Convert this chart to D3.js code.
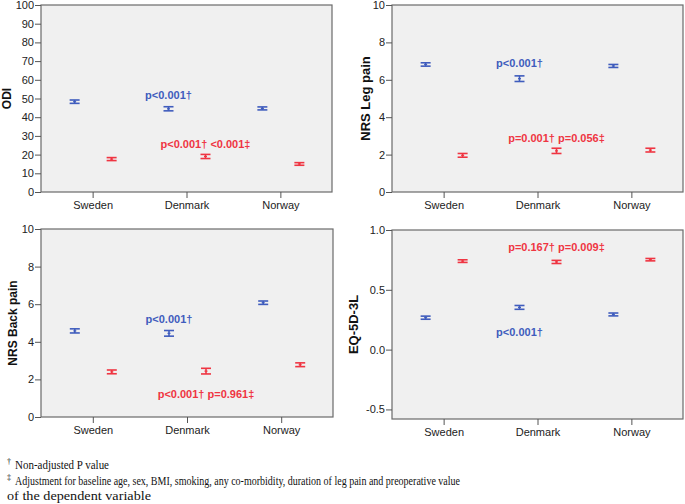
<!DOCTYPE html>
<html>
<head>
<meta charset="utf-8">
<script src="https://cdn.jsdelivr.net/npm/d3@7"></script>
<style>
  body { margin: 0; background: #fff; }
  svg { display: block; }
</style>
</head>
<body>
<div id="app"></div>
<script>
// categories
const countries = ["Sweden", "Denmark", "Norway"];

// means (blue = preoperative, red = follow-up) and 95% CI half widths
const odiPre = [48.3, 44.5, 44.7];
const odiPreCi = [0.9, 1.1, 0.8];
const odiPost = [17.6, 19.0, 15.0];
const odiPostCi = [0.8, 1.1, 0.7];

const legPre = [6.82, 6.06, 6.74];
const legPreCi = [0.09, 0.15, 0.08];
const legPost = [1.96, 2.2, 2.24];
const legPostCi = [0.1, 0.14, 0.1];

const backPre = [4.58, 4.45, 6.08];
const backPreCi = [0.11, 0.15, 0.09];
const backPost = [2.4, 2.44, 2.78];
const backPostCi = [0.1, 0.15, 0.1];

const eqPre = [0.267, 0.353, 0.294];
const eqPreCi = [0.013, 0.016, 0.012];
const eqPost = [0.74, 0.733, 0.752];
const eqPostCi = [0.011, 0.013, 0.01];

// tick labels
const odiTicks = [0, 10, 20, 30, 40, 50, 60, 70, 80, 90, 100];
const nrsTicks = [0, 2, 4, 6, 8, 10];
const eqTicks = [-0.5, 0.0, 0.5, 1.0];

// p value notes: [text, series, value]
const odiNotes = [["p<0.001\u2020", "pre", 52], ["p<0.001\u2020 <0.001\u2021", "post", 25.5]];
const legNotes = [["p<0.001\u2020", "pre", 6.9], ["p=0.001\u2020 p=0.056\u2021", "post", 2.9]];
const backNotes = [["p<0.001\u2020", "pre", 5.2], ["p<0.001\u2020 p=0.961\u2021", "post", 1.2]];
const eqNotes = [["p=0.167\u2020 p=0.009\u2021", "post", 0.855], ["p<0.001\u2020", "pre", 0.15]];

const BLUE = "#3f5cbd", RED = "#ef3542";

const svg = d3.select("#app").append("svg")
  .attr("width", 685).attr("height", 504)
  .style("font-family", "'Liberation Sans', Arial, sans-serif");

function drawPanel(p) {
  const g = svg.append("g").attr("transform", `translate(${p.left},${p.top})`);
  const x = d3.scalePoint().domain(countries).range([0, p.w]).padding(0.55);
  const y = d3.scaleLinear().domain(p.domain).range([p.h, 0]);

  g.append("rect").attr("width", p.w).attr("height", p.h)
    .attr("fill", "#f0f0f0").attr("stroke", "#6a6a6a").attr("stroke-width", 1.2);

  const ya = g.append("g").call(d3.axisLeft(y).tickValues(p.ticks).tickSize(6).tickPadding(1)
    .tickFormat(p.fmt || d3.format("d")));
  const xa = g.append("g").attr("transform", `translate(0,${p.h})`)
    .call(d3.axisBottom(x).tickSize(6).tickPadding(3.5));
  [ya, xa].forEach(a => {
    a.select(".domain").remove();
    a.selectAll("line").attr("stroke", "#555");
    a.selectAll("text").attr("fill", "#222").style("font-size", "11px")
      .style("font-family", "'Liberation Sans', Arial, sans-serif");
  });

  svg.append("text")
    .attr("transform", `translate(${p.titleX},${p.top + p.h / 2}) rotate(-90)`)
    .attr("text-anchor", "middle").attr("dy", "0.35em")
    .style("font-size", p.titleSize + "px").style("font-weight", "bold").attr("fill", "#111")
    .text(p.title);

  const series = [
    {key: "pre", vals: p.pre, ci: p.preCi, color: BLUE, off: -18},
    {key: "post", vals: p.post, ci: p.postCi, color: RED, off: 19}
  ];
  series.forEach(s => {
    const bars = g.selectAll(null).data(countries).enter().append("g")
      .attr("stroke", s.color).attr("stroke-width", 1.6).attr("fill", "none");
    bars.append("line")
      .attr("x1", c => x(c) + s.off).attr("x2", c => x(c) + s.off)
      .attr("y1", (c, i) => y(s.vals[i] - s.ci[i])).attr("y2", (c, i) => y(s.vals[i] + s.ci[i]));
    [-1, 1].forEach(sg => {
      bars.append("line")
        .attr("x1", c => x(c) + s.off - 5).attr("x2", c => x(c) + s.off + 5)
        .attr("y1", (c, i) => y(s.vals[i] + sg * s.ci[i])).attr("y2", (c, i) => y(s.vals[i] + sg * s.ci[i]));
    });
    // mean marker
    bars.append("line").attr("stroke-width", 1.2)
      .attr("x1", c => x(c) + s.off - 1.5).attr("x2", c => x(c) + s.off + 1.5)
      .attr("y1", (c, i) => y(s.vals[i])).attr("y2", (c, i) => y(s.vals[i]));
  });

  g.selectAll(null).data(p.notes).enter().append("text")
    .attr("x", d => x("Denmark") + (d[1] === "pre" ? -18 : 19))
    .attr("y", d => y(d[2])).attr("dy", "0.35em")
    .attr("text-anchor", "middle")
    .attr("fill", d => d[1] === "pre" ? BLUE : RED)
    .style("font-size", "11px").style("font-weight", "bold")
    .text(d => d[0]);
}

const eqFmt = v => d3.format(".1f")(v).replace("\u2212", "-");

drawPanel({left: 41, top: 5, w: 291, h: 187, domain: [0, 100], ticks: odiTicks,
  pre: odiPre, preCi: odiPreCi, post: odiPost, postCi: odiPostCi, notes: odiNotes,
  title: "ODI", titleX: 7, titleSize: 12});
drawPanel({left: 392, top: 5, w: 291, h: 187, domain: [0, 10], ticks: nrsTicks,
  pre: legPre, preCi: legPreCi, post: legPost, postCi: legPostCi, notes: legNotes,
  title: "NRS Leg pain", titleX: 365, titleSize: 13});
drawPanel({left: 41, top: 229, w: 292, h: 188, domain: [0, 10], ticks: nrsTicks,
  pre: backPre, preCi: backPreCi, post: backPost, postCi: backPostCi, notes: backNotes,
  title: "NRS Back pain", titleX: 13, titleSize: 12});
drawPanel({left: 392, top: 230, w: 291, h: 189, domain: [-0.58, 1.0], ticks: eqTicks, fmt: eqFmt,
  pre: eqPre, preCi: eqPreCi, post: eqPost, postCi: eqPostCi, notes: eqNotes,
  title: "EQ-5D-3L", titleX: 353, titleSize: 13});

// footnotes
const notes = svg.append("g")
  .style("font-family", "'Liberation Serif', 'Times New Roman', serif")
  .style("font-size", "13px").attr("fill", "#111");
const l1 = notes.append("text").attr("x", 7).attr("y", 469);
l1.append("tspan").attr("font-size", "8px").attr("dy", "-5").text("\u2020");
l1.append("tspan").attr("dy", "5").attr("x", 15).attr("textLength", 94).attr("lengthAdjust", "spacingAndGlyphs")
  .text("Non-adjusted P value");
const l2 = notes.append("text").attr("x", 7).attr("y", 485);
l2.append("tspan").attr("font-size", "8px").attr("dy", "-5").text("\u2021");
l2.append("tspan").attr("dy", "5").attr("x", 15).attr("textLength", 445).attr("lengthAdjust", "spacingAndGlyphs")
  .text("Adjustment for baseline age, sex, BMI, smoking, any co-morbidity, duration of leg pain and preoperative value");
notes.append("text").attr("x", 7).attr("y", 500).attr("textLength", 144).attr("lengthAdjust", "spacingAndGlyphs")
  .text("of the dependent variable");
</script>
</body>
</html>
